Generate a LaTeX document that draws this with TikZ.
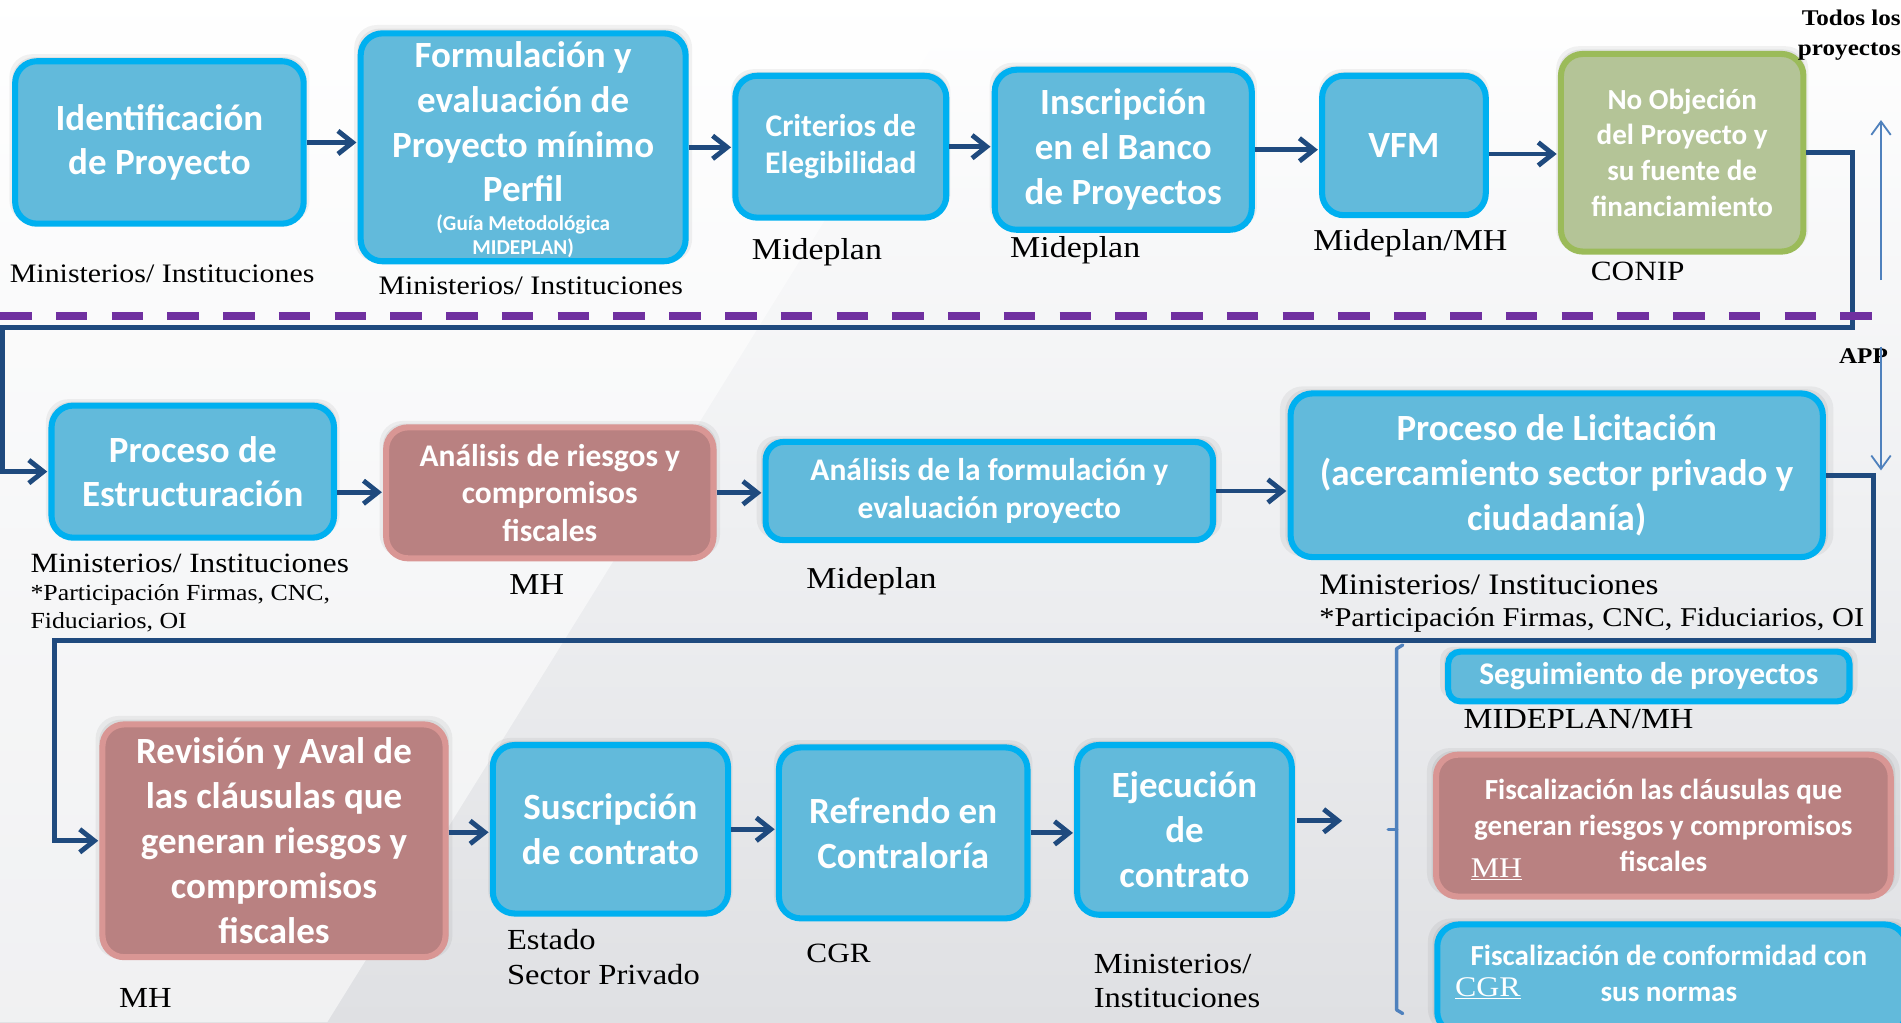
\documentclass[tikz,border=0pt]{standalone}
\usepackage{fontspec}
\setmainfont{Carlito}
\newfontfamily\lblfont[FakeStretch=1.12]{Liberation Serif}
\usetikzlibrary{arrows.meta,shadows,calc}
\definecolor{bfill}{HTML}{62BADB}
\definecolor{bborder}{HTML}{00B0F0}
\definecolor{rfill}{HTML}{B98181}
\definecolor{rborder}{HTML}{D99694}
\definecolor{gfill}{HTML}{B4C497}
\definecolor{gborder}{HTML}{9BBB59}
\definecolor{navy}{HTML}{1F4A7E}
\definecolor{purpleD}{HTML}{7030A0}
\definecolor{thinblue}{HTML}{4F81BD}
\definecolor{bggray}{HTML}{DFE0E3}
\definecolor{bgmid}{HTML}{EFF0F2}
\tikzset{
  box/.style={rounded corners=18pt, line width=5pt, align=center, text=white,
    inner sep=0pt,
    general shadow={fill=black, opacity=0.05, shadow scale=1.04, shadow yshift=3pt},
    general shadow={fill=black, opacity=0.06, shadow scale=1.02, shadow yshift=2pt}},
  bluebox/.style={box, draw=bborder, fill=bfill},
  redbox/.style={box, draw=rborder, fill=rfill},
  greenbox/.style={box, draw=gborder, fill=gfill},
  bigtxt/.style={font=\bfseries\fontsize{30.5}{37}\selectfont},
  midtxt/.style={font=\bfseries\fontsize{26}{31}\selectfont},
  smltxt/.style={font=\bfseries\fontsize{24}{29.5}\selectfont},
  tinytxt/.style={font=\bfseries\fontsize{17.5}{20}\selectfont},
  lbl/.style={font=\lblfont\fontsize{24}{28}\selectfont, anchor=west, inner sep=0pt, text=black},
  lblbig/.style={font=\lblfont\fontsize{25}{29}\selectfont, anchor=west, inner sep=0pt, text=black},
  lblsm/.style={font=\lblfont\fontsize{22}{26}\selectfont, anchor=west, inner sep=0pt, text=black},
  lblmd/.style={font=\lblfont\fontsize{23}{27}\selectfont, anchor=west, inner sep=0pt, text=black},
  lblxs/.style={font=\lblfont\fontsize{19}{22}\selectfont, anchor=west, inner sep=0pt, text=black},
  lblbold/.style={font=\lblfont\bfseries\fontsize{18.5}{24}\selectfont, inner sep=0pt, text=black},
  inlbl/.style={font=\lblfont\fontsize{23.5}{28}\selectfont, anchor=west, inner sep=0pt, text=white},
  arr/.style={draw=navy, line width=4pt, shorten >=1pt, -{Straight Barb[length=12pt,width=19pt]}},
  conn/.style={draw=navy, line width=4pt, line join=miter},
  thinarr/.style={draw=thinblue, line width=1.5pt, -{Straight Barb[length=11pt,width=16pt]}},
  brk/.style={draw=thinblue, line width=2.8pt, line cap=round, line join=round},
  purpledash/.style={draw=purpleD, line width=6.5pt, dash pattern=on 26pt off 20pt},
}
\begin{document}
\begin{tikzpicture}[x=1pt,y=-1pt]
\useasboundingbox (0,0) rectangle (1568,843);
\clip (0,0) rectangle (1568,843);
% background
\shade[top color=white, bottom color=bggray, middle color=bgmid] (0,0) rectangle (1568,843);
\fill[white, opacity=0.55] (0,0) -- (793,0) -- (270,843) -- (0,843) -- cycle;

% ---------- row 1 ----------
\node[bluebox, bigtxt, minimum width=238pt, minimum height=134pt] (b1) at (131.5,117.5) {Identificación\\de Proyecto};
\node[bluebox, minimum width=268pt, minimum height=188pt] (b2) at (431.5,121.5) {};
\node[bigtxt, text=white, align=center, inner sep=0pt] (b2t) at (431.5,100.5) {Formulación y\\evaluación de\\Proyecto mínimo\\Perfil};
\node[tinytxt, text=white, align=center, inner sep=0pt] (b2s) at (431.5,195) {(Guía Metodológica\\MIDEPLAN)};
\node[bluebox, midtxt, minimum width=174pt, minimum height=117pt] (b3) at (693.5,121) {Criterios de\\Elegibilidad};
\node[bluebox, bigtxt, minimum width=212pt, minimum height=132pt] (b4) at (926.5,123.5) {Inscripción\\en el Banco\\de Proyectos};
\node[bluebox, bigtxt, minimum width=135pt, minimum height=115pt] (b5) at (1158,120) {VFM};
\node[greenbox, smltxt, minimum width=200pt, minimum height=163pt] (b6) at (1387.5,126) {No Objeción\\del Proyecto y\\su fuente de\\financiamiento};

\node[lblsm] (l1) at (8,226) {Ministerios/ Instituciones};
\node[lblsm] (l2) at (312,236) {Ministerios/ Instituciones};
\node[lblbig] (l3) at (620,208) {Mideplan};
\node[lblbig] (l4) at (833,206) {Mideplan};
\node[lblbig] (l5) at (1083,201) {Mideplan/MH};
\node[lblmd] (l6) at (1312,224) {CONIP};
\node[lblbold, anchor=east, align=right] (todos) at (1568,29) {Todos los\\proyectos};

% ---------- row 2 ----------
\node[bluebox, bigtxt, minimum width=233pt, minimum height=109pt] (b7) at (159,389) {Proceso de\\Estructuración};
\node[redbox, midtxt, minimum width=270pt, minimum height=108pt] (b8) at (453.5,406.5) {Análisis de riesgos y\\compromisos\\fiscales};
\node[bluebox, midtxt, rounded corners=15pt, minimum width=369pt, minimum height=81pt] (b9) at (816,405) {Análisis de la formulación y\\evaluación proyecto};
\node[bluebox, bigtxt, minimum width=439pt, minimum height=135pt] (b10) at (1284,392) {Proceso de Licitación\\(acercamiento sector privado y\\ciudadanía)};

\node[lblmd] (l7) at (25,465) {Ministerios/ Instituciones};
\node[lblxs] (l7b) at (25,491) {*Participación Firmas, CNC,};
\node[lblxs] (l7c) at (25,513) {Fiduciarios, OI};
\node[lblbig] (l8) at (420,482) {MH};
\node[lblbig] (l9) at (665,479) {Mideplan};
\node[font=\lblfont\fontsize{24.5}{28}\selectfont, anchor=west, inner sep=0pt] (l10) at (1088,482) {Ministerios/ Instituciones};
\node[font=\lblfont\fontsize{22.4}{26}\selectfont, anchor=west, inner sep=0pt] (l10b) at (1088,511) {*Participación Firmas, CNC, Fiduciarios, OI};
\node[lblbold] (app) at (1537,294) {APP};

% ---------- row 3 ----------
\node[redbox, bigtxt, minimum width=283pt, minimum height=192pt] (b11) at (226,693.5) {Revisión y Aval de\\las cláusulas que\\generan riesgos y\\compromisos\\fiscales};
\node[bluebox, bigtxt, minimum width=194pt, minimum height=139pt] (b12) at (503.5,684) {Suscripción\\de contrato};
\node[bluebox, bigtxt, minimum width=205pt, minimum height=141pt] (b13) at (745,687) {Refrendo en\\Contraloría};
\node[bluebox, bigtxt, minimum width=177pt, minimum height=140pt] (b14) at (977,684.5) {Ejecución\\de\\contrato};

\node[bluebox, midtxt, rounded corners=10pt, minimum width=331pt, minimum height=41pt] (b15) at (1360,558) {Seguimiento de proyectos};
\node[redbox, smltxt, minimum width=375pt, minimum height=117pt] (b16) at (1372,681) {Fiscalización las cláusulas que\\generan riesgos y compromisos\\fiscales};
\node[bluebox, minimum width=387pt, minimum height=90pt] (b17) at (1379,807.5) {};
\node[smltxt, text=white, align=center, inner sep=0pt] (b17t) at (1376.5,803) {Fiscalización de conformidad con\\sus normas};
\node[inlbl] (mhin) at (1213,717) {\underline{MH}};
\node[inlbl] (cgrin) at (1200,815) {\underline{CGR}};

\node[lbl] (l11) at (98,823) {MH};
\node[lbl] (l12) at (418,775) {Estado};
\node[lbl] (l12b) at (418,804) {Sector Privado};
\node[lblmd] (l13) at (665,786) {CGR};
\node[lbl] (l14) at (902,795) {Ministerios/};
\node[lbl] (l14b) at (902,823) {Instituciones};
\node[lbl] (l15) at (1207,593) {MIDEPLAN/MH};

% ---------- arrows between boxes ----------
\draw[arr] (b1.east) -- (b1.east -| b2.west);
\draw[arr] (b2.east) -- (b2.east -| b3.west);
\draw[arr] (b3.east) -- (b3.east -| b4.west);
\draw[arr] (b4.east) -- (b4.east -| b5.west);
\draw[arr] ($(b5.east)+(0,7)$) -- ($(b5.east -| b6.west)+(0,7)$);
\draw[arr] ($(b7.east)+(0,17)$) -- ($(b7.east -| b8.west)+(0,17)$);
\draw[arr] (b8.east) -- (b8.east -| b9.west);
\draw[arr] (b9.east) -- (b9.east -| b10.west);
\draw[arr] ($(b11.east)+(0,-7)$) -- ($(b11.east -| b12.west)+(0,-7)$);
\draw[arr] (b12.east) -- (b12.east -| b13.west);
\draw[arr] (b13.east) -- (b13.east -| b14.west);
\coordinate (fe) at (1108,677);
\draw[arr] ($(b14.east |- fe)+(2,0)$) -- (fe);

% ---------- long connectors ----------
\coordinate (k1) at (1528,270);
\coordinate (k2) at (2,270);
\draw[conn, arr] (b6.east) -| (k1) -- (k2) |- (b7.west);
\coordinate (k3) at (1545,528);
\coordinate (k4) at (45,528);
\draw[conn, arr] (b10.east) -| (k3) -- (k4) |- (b11.west);

% purple separator
\coordinate (pd1) at (0,261);
\coordinate (pd2) at (1546,261);
\draw[purpledash] (pd1) -- (pd2);

% thin arrows
\coordinate (ua1) at (1551.5,231);
\coordinate (ua2) at (1551.5,99);
\draw[thinarr] (ua1) -- (ua2);
\coordinate (da1) at (1551.5,286);
\coordinate (da2) at (1551.5,388);
\draw[thinarr] (da1) -- (da2);

% bracket
\coordinate (br1) at (1157,532);
\coordinate (br2) at (1152,535);
\coordinate (br3) at (1152,833);
\coordinate (br4) at (1157,836);
\coordinate (brm) at (1152,684);
\coordinate (brn) at (1145,684);
\draw[brk] (br1) -- (br2) -- (br3) -- (br4);
\draw[brk] (brm) -- (brn);
\end{tikzpicture}
\end{document}
